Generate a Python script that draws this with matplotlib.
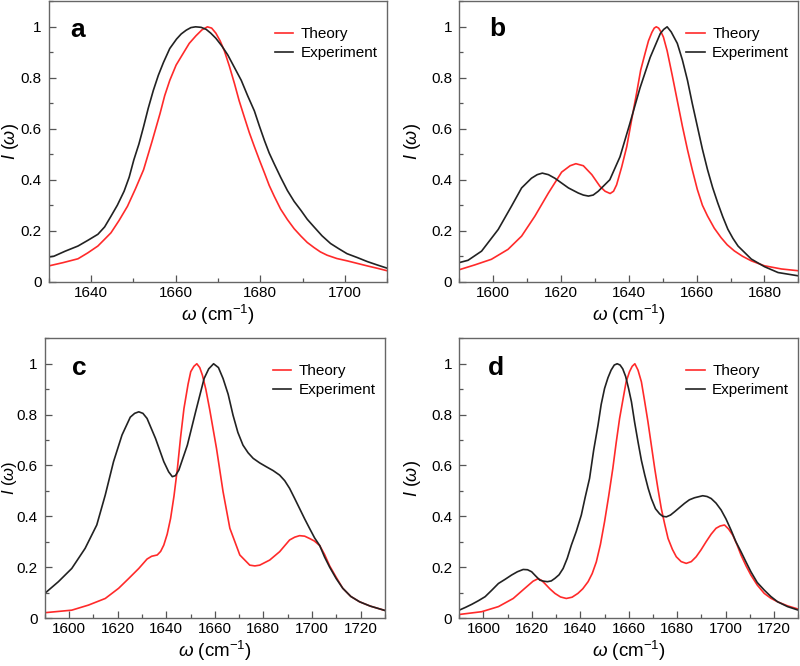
import matplotlib
matplotlib.use("Agg")
import matplotlib.pyplot as plt
from matplotlib.ticker import MultipleLocator, FuncFormatter

plt.rcParams['font.family'] = ['Liberation Sans', 'DejaVu Sans']
plt.rcParams['mathtext.fontset'] = 'custom'
plt.rcParams['mathtext.rm'] = 'Liberation Sans'
plt.rcParams['mathtext.it'] = 'Liberation Sans:italic'
plt.rcParams['mathtext.bf'] = 'Liberation Sans:bold'

# ---------------- data ----------------
# Panel a
a_theory_x = [1630, 1633.4, 1636.9, 1639.2, 1641.6, 1643.1, 1644.7, 1646.6, 1648.6, 1650.5,
              1652.4, 1654.4, 1656.3, 1657.4, 1658.6, 1660.1, 1661.7, 1663.2, 1664.8, 1666.2,
              1667.5, 1668.5, 1669.5, 1670.5, 1671.5, 1672.7, 1673.9, 1675.0, 1676.2, 1677.4,
              1678.6, 1679.8, 1681.0, 1682.1, 1683.3, 1684.8, 1686.4, 1688.0, 1689.6, 1691.1,
              1692.7, 1694.2, 1695.8, 1698.1, 1700.5, 1702.9, 1705.3, 1707.6, 1710]
a_theory_y = [0.062, 0.075, 0.09, 0.113, 0.14, 0.165, 0.192, 0.24, 0.296, 0.365,
              0.439, 0.55, 0.66, 0.73, 0.79, 0.85, 0.894, 0.935, 0.965, 0.988,
              1.0, 0.995, 0.975, 0.945, 0.906, 0.845, 0.777, 0.71, 0.647, 0.585,
              0.53, 0.477, 0.426, 0.378, 0.335, 0.285, 0.244, 0.208, 0.179, 0.154,
              0.134, 0.117, 0.104, 0.091, 0.082, 0.072, 0.062, 0.053, 0.043]
a_exp_x = [1630, 1631.2, 1633.9, 1636.9, 1639.3, 1641.6, 1643.2, 1644.7, 1646.2, 1647.8,
           1649.0, 1650.1, 1651.3, 1652.4, 1653.5, 1654.7, 1655.9, 1657.1, 1658.6, 1660.2,
           1661.3, 1662.5, 1663.6, 1664.7, 1666.0, 1667.2, 1668.3, 1669.5, 1670.9, 1672.3,
           1673.9, 1675.5, 1677.0, 1678.6, 1679.8, 1681.0, 1682.1, 1683.3, 1684.8, 1686.4,
           1688.0, 1689.6, 1691.1, 1692.7, 1694.6, 1696.6, 1698.5, 1700.5, 1702.9, 1705.3,
           1707.6, 1710]
a_exp_y = [0.097, 0.10, 0.12, 0.14, 0.163, 0.186, 0.215, 0.257, 0.30, 0.355,
           0.41, 0.478, 0.54, 0.608, 0.68, 0.75, 0.81, 0.86, 0.915, 0.952,
           0.972, 0.987, 0.997, 1.0, 0.998, 0.99, 0.975, 0.955, 0.925, 0.89,
           0.84, 0.79, 0.73, 0.67, 0.61, 0.553, 0.505, 0.462, 0.41, 0.358,
           0.315, 0.28, 0.245, 0.215, 0.18, 0.15, 0.13, 0.11, 0.095, 0.079,
           0.066, 0.053]

# Panel b
b_theory_x = [1590, 1594.6, 1599.5, 1604.4, 1608.4, 1612.3, 1616.3, 1620.2, 1622.7, 1624.4,
              1626.6, 1629.1, 1631.5, 1633.0, 1634.5, 1635.5, 1636.4, 1637.9, 1639.4, 1640.9,
              1642.3, 1643.5, 1644.8, 1645.8, 1646.8, 1647.5, 1648.1, 1648.8, 1649.5, 1650.2,
              1651.3, 1652.8, 1654.3, 1655.8, 1657.3, 1658.7, 1660.2, 1661.7, 1663.2, 1665.2,
              1667.2, 1669.0, 1671.1, 1673.5, 1676.1, 1680, 1685, 1690]
b_theory_y = [0.047, 0.066, 0.088, 0.127, 0.179, 0.257, 0.348, 0.43, 0.455, 0.463,
              0.455, 0.42, 0.374, 0.355, 0.346, 0.355, 0.38, 0.45, 0.53, 0.64,
              0.74, 0.83, 0.896, 0.945, 0.978, 0.995, 1.0, 0.995, 0.98, 0.96,
              0.906, 0.81, 0.71, 0.61, 0.518, 0.44, 0.362, 0.30, 0.258, 0.21,
              0.173, 0.145, 0.121, 0.10, 0.082, 0.0625, 0.05, 0.043]
b_exp_x = [1590, 1592.6, 1596.6, 1601.5, 1605.4, 1608.4, 1611.3, 1613.0, 1614.5, 1616.3,
           1618.2, 1622.2, 1625.1, 1626.6, 1628.1, 1629.5, 1631.0, 1634.4, 1637.4, 1640.3,
           1643.3, 1646.3, 1649.3, 1650.3, 1651.3, 1652.5, 1654.3, 1655.8, 1657.3, 1658.7,
           1660.2, 1661.7, 1663.2, 1664.7, 1666.2, 1667.7, 1669.2, 1670.7, 1672.2, 1676.1,
           1680, 1684, 1690]
b_exp_y = [0.075, 0.084, 0.12, 0.205, 0.296, 0.368, 0.406, 0.42, 0.426, 0.42,
           0.406, 0.368, 0.348, 0.34, 0.336, 0.34, 0.355, 0.40, 0.49, 0.62,
           0.76, 0.88, 0.974, 0.99, 1.0, 0.98, 0.935, 0.87, 0.79, 0.70,
           0.61, 0.52, 0.44, 0.37, 0.31, 0.255, 0.206, 0.17, 0.14, 0.089,
           0.059, 0.036, 0.023]

# Panel c
c_theory_x = [1590, 1601.1, 1608.0, 1614.9, 1620.4, 1624.6, 1628.7, 1632.1, 1634.0, 1636.3,
              1637.7, 1639.0, 1640.4, 1641.8, 1643.2, 1644.6, 1645.9, 1647.3, 1649.0, 1650.1,
              1651.4, 1652.6, 1653.8, 1654.9, 1656.3, 1657.9, 1660.7, 1663.4, 1666.2, 1670.3,
              1674.4, 1676.5, 1678.5, 1682.6, 1686.7, 1690.8, 1692.9, 1694.9, 1697.0, 1699.0,
              1701.0, 1703.2, 1705.2, 1707.3, 1710.0, 1712.7, 1716.0, 1719.6, 1724.0, 1730]
c_theory_y = [0.021, 0.031, 0.051, 0.077, 0.117, 0.156, 0.195, 0.232, 0.243, 0.248,
              0.262, 0.287, 0.33, 0.392, 0.48, 0.588, 0.71, 0.824, 0.92, 0.969,
              0.99, 1.0, 0.985, 0.955, 0.9, 0.82, 0.667, 0.497, 0.353, 0.248,
              0.208, 0.205, 0.208, 0.228, 0.261, 0.307, 0.318, 0.324, 0.322, 0.313,
              0.303, 0.285, 0.25, 0.205, 0.16, 0.117, 0.085, 0.064, 0.047, 0.03]
c_exp_x = [1590, 1595.6, 1601.1, 1606.6, 1611.4, 1614.9, 1618.3, 1621.8, 1625.2, 1627.0,
           1628.7, 1630.4, 1632.1, 1635.6, 1639.0, 1641.0, 1642.5, 1643.8, 1645.2, 1648.7,
           1652.1, 1655.6, 1657.5, 1659.5, 1661.5, 1663.4, 1665.5, 1667.5, 1669.5, 1671.6,
           1673.7, 1675.8, 1678.5, 1681.2, 1684.0, 1686.7, 1688.8, 1690.8, 1692.9, 1694.9,
           1697.0, 1699.0, 1701.1, 1703.2, 1705.2, 1707.3, 1710.0, 1712.7, 1716.0, 1719.6,
           1724.0, 1730]
c_exp_y = [0.097, 0.143, 0.195, 0.274, 0.366, 0.484, 0.615, 0.72, 0.79, 0.805,
           0.811, 0.805, 0.785, 0.706, 0.615, 0.575, 0.556, 0.56, 0.582, 0.68,
           0.811, 0.942, 0.98, 1.0, 0.985, 0.942, 0.88, 0.798, 0.73, 0.68,
           0.65, 0.628, 0.61, 0.595, 0.58, 0.562, 0.54, 0.51, 0.47, 0.431,
           0.39, 0.353, 0.315, 0.285, 0.24, 0.2, 0.155, 0.117, 0.085, 0.064,
           0.047, 0.03]

# Panel d
d_theory_x = [1590, 1599.3, 1606.2, 1612.3, 1617.1, 1620.5, 1622.6, 1624.0, 1625.3, 1627.4,
              1629.5, 1631.8, 1634.2, 1636.6, 1639.0, 1641.0, 1643.2, 1644.9, 1646.6, 1648.3,
              1650.0, 1651.7, 1653.4, 1654.8, 1656.2, 1657.6, 1658.9, 1660.3, 1661.4, 1662.5,
              1663.8, 1665.2, 1666.5, 1667.9, 1669.3, 1670.7, 1672.0, 1673.4, 1674.8, 1676.2,
              1678.0, 1679.6, 1681.6, 1683.7, 1685.8, 1687.8, 1689.8, 1691.9, 1694.0, 1696.0,
              1697.7, 1699.5, 1701.2, 1702.9, 1704.6, 1706.3, 1708.4, 1710.4, 1713.0, 1715.9,
              1718.6, 1721.4, 1725.5, 1730]
d_theory_y = [0.014, 0.025, 0.045, 0.077, 0.117, 0.145, 0.155, 0.148, 0.136, 0.115,
              0.097, 0.083, 0.077, 0.082, 0.097, 0.115, 0.143, 0.175, 0.221, 0.29,
              0.379, 0.48, 0.588, 0.69, 0.785, 0.86, 0.929, 0.969, 0.99, 1.0,
              0.975, 0.929, 0.855, 0.772, 0.68, 0.588, 0.51, 0.431, 0.37, 0.313,
              0.27, 0.241, 0.222, 0.215, 0.222, 0.241, 0.268, 0.3, 0.33, 0.353,
              0.362, 0.366, 0.35, 0.326, 0.29, 0.248, 0.205, 0.169, 0.13, 0.097,
              0.078, 0.064, 0.048, 0.035]
d_exp_x = [1590, 1592.6, 1595.2, 1597.9, 1600.7, 1603.5, 1606.2, 1608.9, 1611.6, 1614.0,
           1616.4, 1618.2, 1619.9, 1621.6, 1623.3, 1624.8, 1626.4, 1628.0, 1629.5, 1631.2,
           1632.9, 1634.6, 1636.3, 1638.3, 1640.4, 1642.0, 1643.8, 1645.5, 1647.3, 1648.6,
           1650.0, 1651.4, 1652.7, 1654.0, 1655.2, 1656.4, 1657.5, 1658.7, 1659.9, 1661.1,
           1662.4, 1663.8, 1665.2, 1666.6, 1668.0, 1669.3, 1671.0, 1672.7, 1674.0, 1675.5,
           1677.2, 1678.9, 1681.0, 1683.0, 1685.0, 1687.1, 1690.5, 1692.3, 1694.0, 1696.0,
           1698.1, 1700.1, 1702.2, 1704.2, 1706.3, 1708.4, 1710.4, 1713.0, 1715.9, 1718.6,
           1721.4, 1725.5, 1730]
d_exp_y = [0.031, 0.042, 0.054, 0.068, 0.084, 0.11, 0.136, 0.152, 0.169, 0.182,
           0.191, 0.19, 0.182, 0.165, 0.149, 0.145, 0.143, 0.146, 0.156, 0.17,
           0.195, 0.235, 0.287, 0.34, 0.405, 0.475, 0.549, 0.66, 0.759, 0.84,
           0.903, 0.945, 0.975, 0.995, 1.0, 0.995, 0.98, 0.95, 0.903, 0.85,
           0.77, 0.693, 0.62, 0.562, 0.51, 0.47, 0.43, 0.41, 0.40, 0.398,
           0.405, 0.418, 0.435, 0.451, 0.465, 0.473, 0.481, 0.478, 0.47, 0.452,
           0.425, 0.39, 0.346, 0.3, 0.261, 0.22, 0.182, 0.14, 0.11, 0.085,
           0.064, 0.045, 0.031]

panels = [
    ("a", a_theory_x, a_theory_y, a_exp_x, a_exp_y, (1630, 1710), [1640, 1660, 1680, 1700]),
    ("b", b_theory_x, b_theory_y, b_exp_x, b_exp_y, (1590, 1690), [1600, 1620, 1640, 1660, 1680]),
    ("c", c_theory_x, c_theory_y, c_exp_x, c_exp_y, (1590, 1730), [1600, 1620, 1640, 1660, 1680, 1700, 1720]),
    ("d", d_theory_x, d_theory_y, d_exp_x, d_exp_y, (1590, 1730), [1600, 1620, 1640, 1660, 1680, 1700, 1720]),
]

positions = [
    [0.061, 0.577, 0.423, 0.421],
    [0.574, 0.577, 0.424, 0.421],
    [0.056, 0.072, 0.425, 0.420],
    [0.574, 0.072, 0.424, 0.420],
]
label_pos = [(0.062, 0.873), (0.088, 0.875), (0.079, 0.869), (0.086, 0.869)]
ylabel_x = [-0.112, -0.137, -0.105, -0.137]
ylabel_size = [13, 13, 12, 13]

fig = plt.figure(figsize=(8, 6.66), dpi=100)


def yfmt(v, pos):
    if abs(v) < 1e-9:
        return "0"
    if abs(v - 1) < 1e-9:
        return "1"
    return "%.1f" % v


for (lab, tx, ty, ex, ey, xlim, xt), pos, lp, ylx, yls in zip(panels, positions, label_pos,
                                                               ylabel_x, ylabel_size):
    ax = fig.add_axes(pos)
    ax.plot(tx, ty, color='#ff2a2a', lw=1.2, label='Theory')
    ax.plot(ex, ey, color='#222222', lw=1.2, label='Experiment')
    ax.set_xlim(*xlim)
    ax.set_ylim(0, 1.1)
    ax.set_xticks(xt)
    ax.xaxis.set_minor_locator(MultipleLocator(10))
    ax.set_yticks([0, 0.2, 0.4, 0.6, 0.8, 1.0])
    ax.yaxis.set_major_formatter(FuncFormatter(yfmt))
    ax.yaxis.set_minor_locator(MultipleLocator(0.1))
    ax.tick_params(which='both', direction='in', top=False, right=False,
                   labelsize=11, color='#555555')
    ax.tick_params(axis='x', which='both', pad=3)
    ax.tick_params(axis='y', which='both', pad=5)
    ax.tick_params(which='major', length=5, width=0.9)
    ax.tick_params(which='minor', length=3, width=0.9)
    for s in ax.spines.values():
        s.set_color('#666666')
        s.set_linewidth(1.0)
    ax.set_xlabel(r'$\omega$ (cm$^{-1}$)', fontsize=13.5, labelpad=2)
    ax.set_ylabel(r'$I$ ($\omega$)', fontsize=yls)
    ax.yaxis.label.set_verticalalignment('center')
    ax.yaxis.set_label_coords(ylx, 0.5)
    ax.text(lp[0], lp[1], lab, transform=ax.transAxes, fontsize=19,
            fontweight='bold', ha='left', va='baseline')
    ax.legend(loc='upper right', frameon=False, fontsize=11,
              handlelength=1.2, handletextpad=0.5, labelspacing=0.3,
              borderaxespad=0.2, bbox_to_anchor=(1.0, 0.94))

fig.savefig('out.png', dpi=100)
